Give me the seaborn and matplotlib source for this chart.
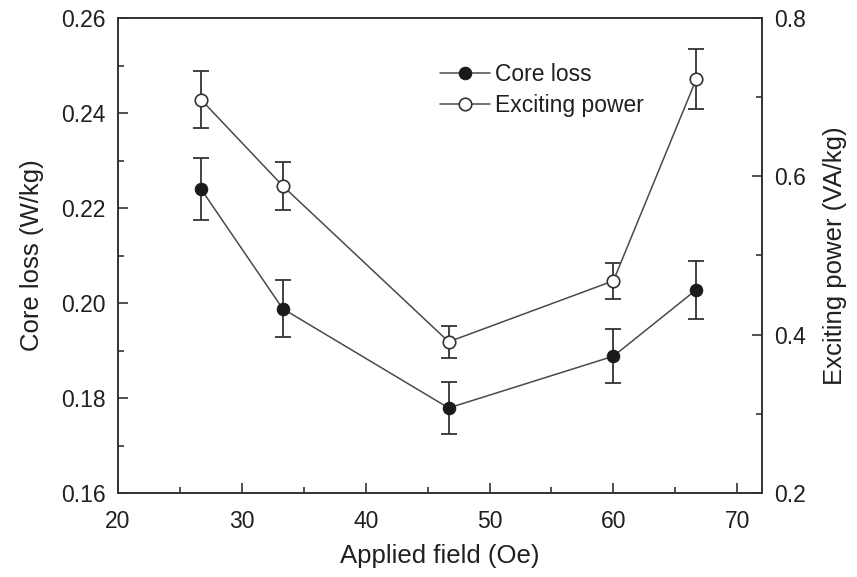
import numpy as np
import pandas as pd
import matplotlib
matplotlib.use('Agg')
import matplotlib.pyplot as plt
import seaborn as sns
from matplotlib.ticker import MultipleLocator

# data
field = [26.7, 33.3, 46.7, 60.0, 66.7]
core_loss = [0.224, 0.1988, 0.1779, 0.1888, 0.2028]
core_err = [0.0066, 0.0060, 0.0055, 0.0057, 0.0061]
exciting_power = [0.697, 0.588, 0.391, 0.468, 0.723]
exciting_err = [0.036, 0.030, 0.020, 0.023, 0.038]

df = pd.DataFrame({'field': field, 'core': core_loss, 'core_err': core_err,
                   'exc': exciting_power, 'exc_err': exciting_err})

sns.set_style('ticks')
plt.rcParams['font.family'] = ['Liberation Sans', 'DejaVu Sans']
plt.rcParams['xtick.direction'] = 'in'
plt.rcParams['ytick.direction'] = 'in'

text_col = '#231f20'
line_col = '#4a4a4a'

fig = plt.figure(figsize=(8.57, 5.77), dpi=100)
ax = fig.add_axes([118/857, 1-493/577, (762-118)/857, (493-18)/577])
ax2 = ax.twinx()

# core loss (left axis)
ax.errorbar(df['field'], df['core'], yerr=df['core_err'], fmt='none',
            ecolor='#333333', elinewidth=1.3, capsize=6, capthick=1.3, zorder=2)
sns.lineplot(data=df, x='field', y='core', ax=ax, color=line_col, lw=1.1,
             marker='o', markersize=9, markerfacecolor='#1a1a1a',
             markeredgecolor='#1a1a1a', label='Core loss', legend=False, zorder=3)

# exciting power (right axis)
ax2.errorbar(df['field'], df['exc'], yerr=df['exc_err'], fmt='none',
             ecolor='#333333', elinewidth=1.3, capsize=6, capthick=1.3, zorder=2)
sns.lineplot(data=df, x='field', y='exc', ax=ax2, color=line_col, lw=1.1,
             marker='o', markersize=9, markerfacecolor='white',
             markeredgecolor='#333333', markeredgewidth=1.2,
             label='Exciting power', legend=False, zorder=3)

ax.set_xlim(20, 72)
ax.set_ylim(0.16, 0.26)
ax2.set_ylim(0.2, 0.8)
ax.xaxis.set_major_locator(MultipleLocator(10))
ax.xaxis.set_minor_locator(MultipleLocator(5))
ax.yaxis.set_major_locator(MultipleLocator(0.02))
ax.yaxis.set_minor_locator(MultipleLocator(0.01))
ax2.yaxis.set_major_locator(MultipleLocator(0.2))
ax2.yaxis.set_minor_locator(MultipleLocator(0.1))
ax.yaxis.set_major_formatter(plt.FormatStrFormatter('%.2f'))
ax2.yaxis.set_major_formatter(plt.FormatStrFormatter('%.1f'))

for a in (ax, ax2):
    a.tick_params(which='major', length=7, width=1.1, labelsize=16.5,
                  colors=text_col, pad=9)
    a.tick_params(which='minor', length=4, width=1.1, colors=text_col)
    for s in a.spines.values():
        s.set_visible(True)
        s.set_linewidth(1.2)
        s.set_color('#333333')
ax.tick_params(axis='y', which='both', right=False)
ax.tick_params(axis='x', which='both', top=False)
ax.tick_params(axis='x', which='major', pad=12)

ax.set_xlabel('Applied field (Oe)', fontsize=18.5, color=text_col, labelpad=8)
ax.set_ylabel('Core loss (W/kg)', fontsize=18.5, color=text_col, labelpad=12)
ax2.set_ylabel('Exciting power (VA/kg)', fontsize=18.5, color=text_col, labelpad=12)

h1, l1 = ax.get_legend_handles_labels()
h2, l2 = ax2.get_legend_handles_labels()
leg = fig.legend(h1 + h2, l1 + l2, loc='upper left',
                 bbox_to_anchor=(440/857, 1-63/577), frameon=False,
                 fontsize=16.5, handlelength=2.2, handletextpad=0.2,
                 labelspacing=0.35, borderpad=0, borderaxespad=0)
for t in leg.get_texts():
    t.set_color(text_col)

fig.savefig('out.png', dpi=100)
